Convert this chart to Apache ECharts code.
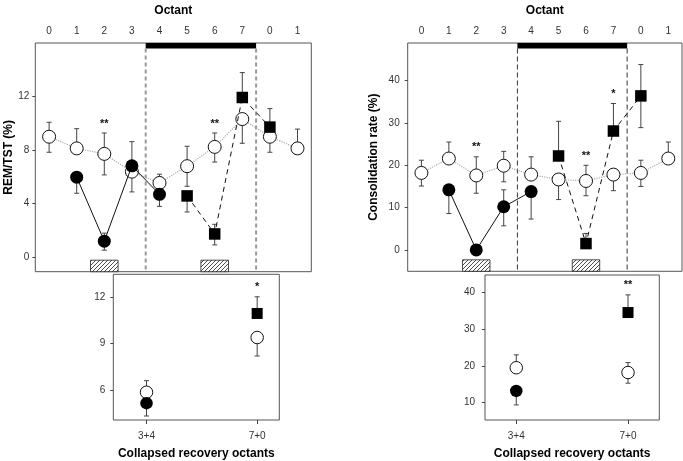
<!DOCTYPE html>
<html><head><meta charset="utf-8">
<script src="https://cdn.jsdelivr.net/npm/echarts@6/dist/echarts.min.js"></script>
<style>html,body{margin:0;padding:0;background:#fff}#c{width:683px;height:461px}</style>
</head><body><div id="c"></div>
<script>
// ================= DATA =================
const octantLabels = ['0','1','2','3','4','5','6','7','0','1'];
const octantIdx = [0,1,2,3,4,5,6,7,8,9];
const collapsedLabels = ['3+4','7+0'];
const collapsedIdx = [0,1];
const darkPhase = [[3.5, 7.5]];
const deprivationOctants = [[1.5, 2.5],[5.5, 6.5]];

// REM/TST (%) by octant
const remControl     = [9.0, 8.13, 7.72, 6.39, 5.55, 6.8, 8.24, 10.32, 9.0, 8.13];
const remControlUp   = [1.08, 1.47, 1.56, 2.24, 0.65, 1.49, 1.04, 0, 0, 1.44];
const remControlDown = [1.16, 0, 1.57, 0, 0, 1.5, 1.13, 1.81, 1.16, 0];
const remDep1Oct  = [1, 2, 3, 4];
const remDep1     = [5.98, 1.2, 6.83, 4.7];
const remDep1Up   = [0, 0.6, 0, 0];
const remDep1Down = [1.2, 0.67, 1.95, 0.9];
const remDep2Oct  = [5, 6, 7, 8];
const remDep2     = [4.58, 1.74, 11.93, 9.72];
const remDep2Up   = [0, 0.72, 1.86, 1.38];
const remDep2Down = [1.2, 0.82, 0, 0];
const remSig = ['', '', '**', '', '', '', '**', '', '', ''];

// REM/TST collapsed recovery octants
const remColControl     = [5.85, 9.4];
const remColControlUp   = [0.75, 0];
const remColControlDown = [0, 1.2];
const remColDep1Idx = [0];
const remColDep1     = [5.14];
const remColDep1Up   = [0];
const remColDep1Down = [0.83];
const remColDep2Idx = [1];
const remColDep2     = [10.96];
const remColDep2Up   = [1.08];
const remColDep2Down = [0];
const remColSig = ['', '*'];

// Consolidation rate (%) by octant
const conControl     = [18.2, 21.6, 17.6, 19.9, 17.8, 16.65, 16.3, 17.8, 18.2, 21.6];
const conControlUp   = [3.0, 3.9, 4.4, 3.4, 4.2, 0, 3.7, 0, 3.0, 3.9];
const conControlDown = [3.1, 0, 4.2, 3.8, 0, 4.75, 3.5, 3.8, 3.2, 0];
const conDep1Oct  = [1, 2, 3, 4];
const conDep1     = [14.2, 0, 10.2, 13.8];
const conDep1Up   = [0, 0, 4.0, 0];
const conDep1Down = [5.6, 0, 4.5, 6.5];
const conDep2Oct  = [5, 6, 7, 8];
const conDep2     = [22.2, 1.5, 28.1, 36.4];
const conDep2Up   = [8.2, 2.4, 6.5, 7.4];
const conDep2Down = [0, 0, 0, 7.5];
const conSig = ['', '', '**', '', '', '', '**', '*', '', ''];

// Consolidation collapsed recovery octants
const conColControl     = [19.5, 18.2];
const conColControlUp   = [3.5, 2.7];
const conColControlDown = [0, 2.9];
const conColDep1Idx = [0];
const conColDep1     = [13.2];
const conColDep1Up   = [0];
const conColDep1Down = [3.8];
const conColDep2Idx = [1];
const conColDep2     = [34.5];
const conColDep2Up   = [4.8];
const conColDep2Down = [0];
const conColSig = ['', '**'];

// ================= FONTS =================
function hasFont(name){
  const c = document.createElement('canvas').getContext('2d');
  const t = 'Collapsed recovery octants 0123';
  c.font = '20px monospace'; const w1 = c.measureText(t).width;
  c.font = "20px '" + name + "', monospace"; const w2 = c.measureText(t).width;
  return Math.abs(w1 - w2) > 0.5;
}
const narrow = hasFont('Liberation Sans Narrow');
const FONT = narrow ? "'Liberation Sans Narrow', 'Liberation Sans', Arial, sans-serif" : "'Liberation Sans', Arial, sans-serif";
const TICK_FS = narrow ? 11 : 10;
const TITLE_FS = narrow ? 13.5 : 12;

// ================= HELPERS =================
function errData(xs, vals, ups, downs){
  const out = [];
  xs.forEach((x, i) => {
    if (ups[i] > 0) out.push([x, vals[i], vals[i] + ups[i]]);
    if (downs[i] > 0) out.push([x, vals[i], vals[i] - downs[i]]);
  });
  return out;
}
function renderErr(params, api){
  const a = api.coord([api.value(0), api.value(1)]);
  const b = api.coord([api.value(0), api.value(2)]);
  return {type: 'group', children: [
    {type: 'line', shape: {x1: a[0], y1: a[1], x2: b[0], y2: b[1]}, style: {stroke: '#444', lineWidth: 1}},
    {type: 'line', shape: {x1: b[0] - 2.5, y1: b[1], x2: b[0] + 2.5, y2: b[1]}, style: {stroke: '#444', lineWidth: 1}}
  ]};
}
function pts(xs, vals){ return xs.map((x, i) => [x, vals[i]]); }

// hatch pattern
const hatch = document.createElement('canvas');
hatch.width = 4; hatch.height = 4;
(function(){
  const g = hatch.getContext('2d');
  g.fillStyle = '#fff'; g.fillRect(0, 0, 4, 4);
  g.strokeStyle = '#222'; g.lineWidth = 0.8;
  g.beginPath();
  g.moveTo(-1, 5); g.lineTo(5, -1);
  g.moveTo(-1, 1); g.lineTo(1, -1);
  g.moveTo(3, 5); g.lineTo(5, 3);
  g.stroke();
})();

function panelSeries(gi, o){
  const big = o.big;
  const sOpen = big ? 13 : 12.5, sSq = big ? 11.5 : 11;
  const series = [];
  const errs = [].concat(
    errData(o.ctrlX, o.ctrl, o.ctrlUp, o.ctrlDown),
    errData(o.d1X, o.d1, o.d1Up, o.d1Down),
    errData(o.d2X, o.d2, o.d2Up, o.d2Down));
  series.push({type: 'custom', xAxisIndex: gi, yAxisIndex: gi, data: errs, renderItem: renderErr,
    encode: {x: 0, y: [1, 2]}, clip: false, silent: true, z: 3});
  series.push({type: 'line', xAxisIndex: gi, yAxisIndex: gi, data: pts(o.ctrlX, o.ctrl),
    symbol: 'circle', symbolSize: sOpen, showSymbol: true,
    lineStyle: {color: '#aaa', width: big ? 1.2 : 0, type: 'dotted'},
    itemStyle: {color: '#fff', borderColor: '#111', borderWidth: 1}, z: 4, silent: true, animation: false});
  series.push({type: 'line', xAxisIndex: gi, yAxisIndex: gi, data: pts(o.d1X, o.d1),
    symbol: 'circle', symbolSize: sOpen,
    lineStyle: {color: '#111', width: big ? 1 : 0, type: 'solid'},
    itemStyle: {color: '#000', borderColor: '#000', borderWidth: 0}, z: 5, silent: true, animation: false});
  series.push({type: 'line', xAxisIndex: gi, yAxisIndex: gi, data: pts(o.d2X, o.d2),
    symbol: 'rect', symbolSize: sSq,
    lineStyle: {color: '#111', width: big ? 1 : 0, type: [5, 4]},
    itemStyle: {color: '#000', borderColor: '#000', borderWidth: 0}, z: 5, silent: true, animation: false});
  const starData = [], starLabels = [];
  o.sig.forEach((s, i) => {
    if (!s) return;
    const x = o.sigX[i];
    let top = -Infinity;
    errs.forEach(e => { if (e[0] === x) top = Math.max(top, e[1], e[2]); });
    starData.push([x, top]); starLabels.push(s);
  });
  series.push({type: 'custom', xAxisIndex: gi, yAxisIndex: gi, data: starData, clip: false, silent: true, z: 6,
    encode: {x: 0, y: 1},
    renderItem: function(params, api){
      const p = api.coord([api.value(0), api.value(1)]);
      return {type: 'text', x: p[0], y: p[1] - 4, style: {text: starLabels[params.dataIndex],
        fill: '#111', font: 'bold 11px ' + FONT, textAlign: 'center', textVerticalAlign: 'bottom'}};
    }});
  return series;
}

function annotationSeries(gi, dashColor, dashWidth, dash){
  return [
    {type: 'custom', xAxisIndex: gi, yAxisIndex: gi, data: darkPhase, clip: false, silent: true, z: 2,
      encode: {x: [0, 1]},
      renderItem: function(params, api){
        const cs = params.coordSys;
        const x1 = api.coord([api.value(0), 0])[0], x2 = api.coord([api.value(1), 0])[0];
        const top = cs.y, bot = cs.y + cs.height;
        return {type: 'group', children: [
          {type: 'rect', shape: {x: x1, y: top, width: x2 - x1, height: 5.5}, style: {fill: '#000'}},
          {type: 'line', shape: {x1: x1, y1: top + 5.5, x2: x1, y2: bot}, style: {stroke: dashColor, lineWidth: dashWidth, lineDash: dash}},
          {type: 'line', shape: {x1: x2, y1: top + 5.5, x2: x2, y2: bot}, style: {stroke: dashColor, lineWidth: dashWidth, lineDash: dash}}
        ]};
      }},
    {type: 'custom', xAxisIndex: gi, yAxisIndex: gi, data: deprivationOctants, clip: false, silent: true, z: 2,
      encode: {x: [0, 1]},
      renderItem: function(params, api){
        const cs = params.coordSys;
        const x1 = api.coord([api.value(0), 0])[0], x2 = api.coord([api.value(1), 0])[0];
        const bot = cs.y + cs.height;
        return {type: 'rect', shape: {x: x1, y: bot - 11.5, width: x2 - x1, height: 11.5},
          style: {fill: {image: hatch, repeat: 'repeat'}, stroke: '#222', lineWidth: 0.8}};
      }}
  ];
}

const tickLabel = {color: '#333', fontSize: TICK_FS, fontFamily: FONT};
const titleStyle = {color: '#000', fontSize: TITLE_FS, fontWeight: 'bold', fontFamily: FONT};

function octAxis(gi){
  return {type: 'value', gridIndex: gi, position: 'top', min: -0.5, max: 9.5,
    axisLine: {show: false, onZero: false}, axisTick: {show: false}, splitLine: {show: false},
    axisLabel: Object.assign({customValues: octantIdx, margin: 7,
      formatter: v => octantLabels[Math.round(v)]}, tickLabel),
    name: 'Octant', nameLocation: 'middle', nameGap: 26, nameTextStyle: titleStyle};
}
function colAxis(gi, min, max){
  return {type: 'value', gridIndex: gi, position: 'bottom', min: min, max: max,
    axisLine: {show: false, onZero: false}, splitLine: {show: false},
    axisTick: {show: true, customValues: collapsedIdx, length: 4, lineStyle: {color: '#444'}},
    axisLabel: Object.assign({customValues: collapsedIdx, margin: 11,
      formatter: v => collapsedLabels[Math.round(v)]}, tickLabel),
    name: 'Collapsed recovery octants', nameLocation: 'middle', nameGap: 28, nameTextStyle: titleStyle};
}
function yAx(gi, min, max, ticks, margin, name, gap){
  const a = {type: 'value', gridIndex: gi, min: min, max: max,
    axisLine: {show: false, onZero: false}, splitLine: {show: false},
    axisTick: {show: true, customValues: ticks, length: 3, lineStyle: {color: '#444'}},
    axisLabel: Object.assign({customValues: ticks, margin: margin}, tickLabel)};
  if (name) Object.assign(a, {name: name, nameLocation: 'middle', nameGap: gap, nameRotate: 90, nameTextStyle: titleStyle});
  return a;
}

const gridBase = {show: true, borderColor: '#555', borderWidth: 1, backgroundColor: '#fff', containLabel: false};

const option = {
  animation: false,
  backgroundColor: '#fff',
  grid: [
    Object.assign({left: 35.3, top: 35.7, width: 276, height: 236}, gridBase),
    Object.assign({left: 407.7, top: 36, width: 274.3, height: 235.3}, gridBase),
    Object.assign({left: 113.3, top: 274.3, width: 166, height: 145.7}, gridBase),
    Object.assign({left: 485, top: 275, width: 174.3, height: 145}, gridBase)
  ],
  xAxis: [octAxis(0), octAxis(1), colAxis(2, -0.3, 1.2), colAxis(3, -0.28, 1.28)],
  yAxis: [
    yAx(0, -1.08, 16, [0, 4, 8, 12], 6, 'REM/TST (%)', 20),
    yAx(1, -5.05, 48.9, [0, 10, 20, 30, 40], 8, 'Consolidation rate (%)', 28),
    yAx(2, 4.05, 13.5, [6, 9, 12], 8),
    yAx(3, 5.3, 44.7, [10, 20, 30, 40], 10)
  ],
  series: [].concat(
    annotationSeries(0, '#999', 2, [4, 3]),
    annotationSeries(1, '#333', 1, [5, 3]),
    panelSeries(0, {ctrlX: octantIdx, ctrl: remControl, ctrlUp: remControlUp, ctrlDown: remControlDown,
      d1X: remDep1Oct, d1: remDep1, d1Up: remDep1Up, d1Down: remDep1Down,
      d2X: remDep2Oct, d2: remDep2, d2Up: remDep2Up, d2Down: remDep2Down,
      sig: remSig, sigX: octantIdx, big: true}),
    panelSeries(1, {ctrlX: octantIdx, ctrl: conControl, ctrlUp: conControlUp, ctrlDown: conControlDown,
      d1X: conDep1Oct, d1: conDep1, d1Up: conDep1Up, d1Down: conDep1Down,
      d2X: conDep2Oct, d2: conDep2, d2Up: conDep2Up, d2Down: conDep2Down,
      sig: conSig, sigX: octantIdx, big: true}),
    panelSeries(2, {ctrlX: collapsedIdx, ctrl: remColControl, ctrlUp: remColControlUp, ctrlDown: remColControlDown,
      d1X: remColDep1Idx, d1: remColDep1, d1Up: remColDep1Up, d1Down: remColDep1Down,
      d2X: remColDep2Idx, d2: remColDep2, d2Up: remColDep2Up, d2Down: remColDep2Down,
      sig: remColSig, sigX: collapsedIdx, big: false}),
    panelSeries(3, {ctrlX: collapsedIdx, ctrl: conColControl, ctrlUp: conColControlUp, ctrlDown: conColControlDown,
      d1X: conColDep1Idx, d1: conColDep1, d1Up: conColDep1Up, d1Down: conColDep1Down,
      d2X: conColDep2Idx, d2: conColDep2, d2Up: conColDep2Up, d2Down: conColDep2Down,
      sig: conColSig, sigX: collapsedIdx, big: false})
  )
};

const chart = echarts.init(document.getElementById('c'), null, {renderer: 'canvas'});
chart.setOption(option);
</script>
</body></html>
